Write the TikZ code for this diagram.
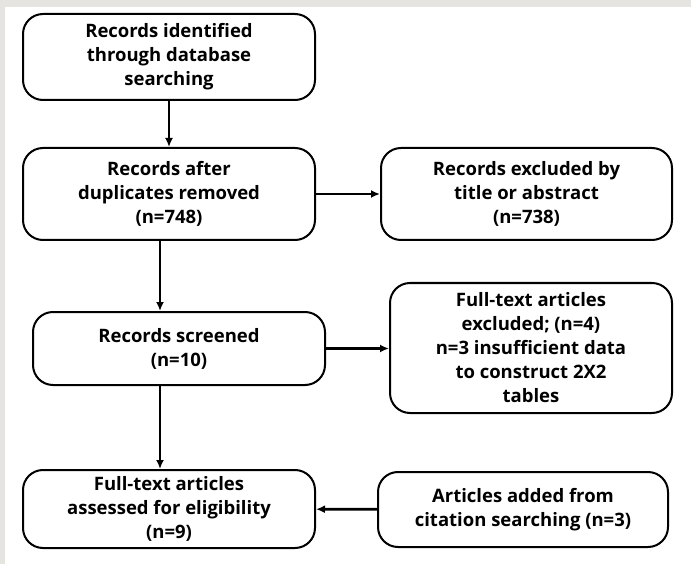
\documentclass[tikz,border=0pt]{standalone}
\usepackage{fontspec}
\setmainfont{Open Sans}
\usetikzlibrary{arrows.meta}
\definecolor{framegrey}{HTML}{E6E4E1}

\begin{document}
\begin{tikzpicture}[x=1pt, y=-1pt,
    stage/.style={draw, rounded corners=20pt, line width=2pt, align=center,
                  font=\bfseries\fontsize{18.5}{24}\selectfont, inner sep=0pt},
    link/.style={-{Latex[length=9pt,width=8pt]}, line width=2.6pt}
  ]
  \fill[framegrey] (0,0) rectangle (691,564);
  \fill[white] (5,7) rectangle (691,564);
  \useasboundingbox (0,0) rectangle (691,564);

  \node[stage, minimum width=292pt, minimum height=86pt] (ident) at (169, 57)
    {Records identified\\through database\\searching};
  \node[stage, minimum width=292pt, minimum height=92pt] (dedup) at (169, 194)
    {Records after\\duplicates removed\\(n=748)};
  \node[stage, minimum width=291pt, minimum height=92pt] (titex) at (526.5, 194)
    {Records excluded by\\title or abstract\\(n=738)};
  \node[stage, minimum width=292pt, minimum height=73pt] (screen) at (179, 348.5)
    {Records screened\\(n=10)};
  \node[stage, minimum width=282pt, minimum height=130pt] (fullex) at (531, 348)
    {Full-text articles\\excluded; (n=4)\\n=3 insufficient data\\to construct 2X2\\tables};
  \node[stage, minimum width=292pt, minimum height=78pt] (elig) at (169, 509)
    {Full-text articles\\assessed for eligibility\\(n=9)};
  \node[stage, minimum width=290pt, minimum height=75pt] (cite) at (523, 509.5)
    {Articles added from\\citation searching (n=3)};

  \coordinate (col) at (160, 0);
  \draw[link] (ident) -- (dedup);
  \draw[link] (dedup) -- (titex);
  \draw[link] (col |- dedup.south) -- (col |- screen.north);
  \draw[link] (screen) -- (screen -| fullex.west);
  \draw[link] (col |- screen.south) -- (col |- elig.north);
  \draw[link] (cite) -- (elig);
\end{tikzpicture}
\end{document}
